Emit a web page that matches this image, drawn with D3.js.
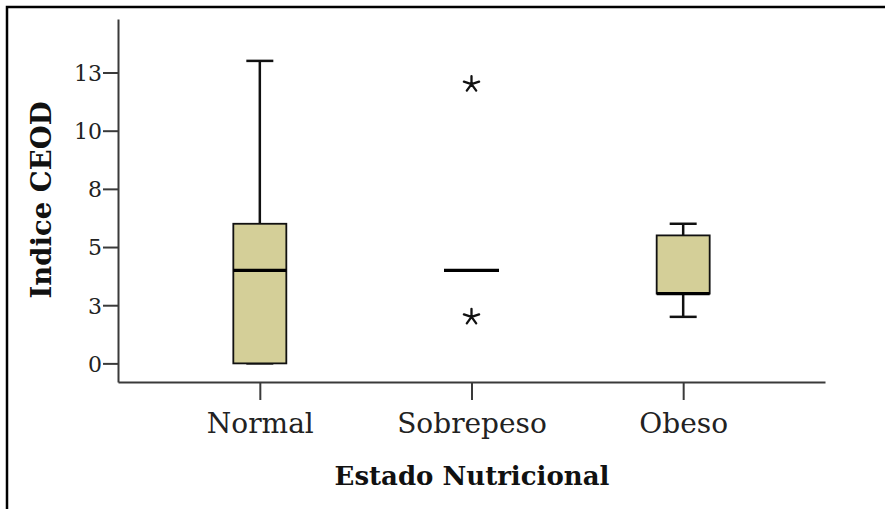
<!DOCTYPE html>
<html>
<head>
<meta charset="utf-8">
<script src="https://cdn.jsdelivr.net/npm/d3@7"></script>
<style>
  html, body { margin: 0; padding: 0; background: #fff; }
  svg { display: block; }
</style>
</head>
<body>
<svg id="chart" width="885" height="509"></svg>
<script>
// Box plot summary of Indice CEOD by nutritional status
const categories   = ["Normal", "Sobrepeso", "Obeso"];
const whiskerLow   = [0, 4, 2];
const q1           = [0, 4, 3];
const median       = [4, 4, 3];
const q3           = [6, 4, 5.5];
const whiskerHigh  = [13, 4, 6];
const extremes     = [[], [12, 2], []];
const tickValues   = [0, 2.5, 5, 7.5, 10, 12.5];
const tickLabels   = ["0", "3", "5", "8", "10", "13"];

const svg = d3.select("#chart");
const serif = "'DejaVu Serif', serif";
const ink = "#111";
const axisInk = "#3a3a3a";

// outer frame (left and top edges visible)
svg.append("path")
  .attr("d", "M7,509 L7,7 L885,7")
  .attr("fill", "none")
  .attr("stroke", "#000")
  .attr("stroke-width", 2.5);

const y = d3.scaleLinear().domain([-0.8, 14.8]).range([382, 19]);
const x = d3.scalePoint().domain(categories).range([118, 825]).padding(0.67);

// y axis
const yAxis = svg.append("g")
  .attr("transform", "translate(118,0)")
  .call(d3.axisLeft(y).tickValues(tickValues)
    .tickFormat((d, i) => tickLabels[i]).tickSize(15).tickSizeOuter(0).tickPadding(1));
yAxis.select(".domain").attr("stroke", axisInk).attr("stroke-width", 2);
yAxis.selectAll(".tick line").attr("stroke", axisInk).attr("stroke-width", 2);
yAxis.selectAll(".tick text")
  .attr("font-family", serif).attr("font-size", 22).attr("fill", "#222")
  .attr("dy", "0.36em");

// x axis
const xAxis = svg.append("g")
  .attr("transform", "translate(0,382)")
  .call(d3.axisBottom(x).tickSize(18).tickSizeOuter(0));
xAxis.select(".domain").attr("stroke", axisInk).attr("stroke-width", 2);
xAxis.selectAll(".tick line").attr("stroke", axisInk).attr("stroke-width", 2);
xAxis.selectAll(".tick text")
  .attr("font-family", serif).attr("font-size", 28).attr("fill", "#222")
  .attr("y", 51).attr("dy", 0);

// axis titles
svg.append("text")
  .attr("transform", "translate(51,200) rotate(-90)")
  .attr("text-anchor", "middle")
  .attr("font-family", serif).attr("font-weight", "bold").attr("font-size", 27.5)
  .attr("fill", "#111")
  .text("Indice CEOD");

svg.append("text")
  .attr("x", 472).attr("y", 485)
  .attr("text-anchor", "middle")
  .attr("font-family", serif).attr("font-weight", "bold").attr("font-size", 26)
  .attr("fill", "#111")
  .text("Estado Nutricional");

// boxes
const boxW = 53, capW = 27;
const rows = categories.map((c, i) => ({
  c, lo: whiskerLow[i], q1: q1[i], med: median[i], q3: q3[i], hi: whiskerHigh[i], ext: extremes[i]
}));

const g = svg.append("g");
rows.forEach(r => {
  const cx = x(r.c);
  const hasBox = r.q3 > r.q1;
  if (hasBox) {
    // whiskers
    g.append("line").attr("x1", cx).attr("x2", cx)
      .attr("y1", y(r.q3)).attr("y2", y(r.hi))
      .attr("stroke", ink).attr("stroke-width", 2.5);
    g.append("line").attr("x1", cx).attr("x2", cx)
      .attr("y1", y(r.q1)).attr("y2", y(r.lo))
      .attr("stroke", ink).attr("stroke-width", 2.5);
    [r.lo, r.hi].forEach(v => {
      g.append("line").attr("x1", cx - capW / 2).attr("x2", cx + capW / 2)
        .attr("y1", y(v)).attr("y2", y(v))
        .attr("stroke", ink).attr("stroke-width", 2.5);
    });
    g.append("rect")
      .attr("x", cx - boxW / 2).attr("width", boxW)
      .attr("y", y(r.q3)).attr("height", y(r.q1) - y(r.q3))
      .attr("fill", "#d4cf98")
      .attr("stroke", ink).attr("stroke-width", 1.8);
  }
  // median
  const mw = hasBox ? boxW : 55;
  g.append("line").attr("x1", cx - mw / 2).attr("x2", cx + mw / 2)
    .attr("y1", y(r.med)).attr("y2", y(r.med))
    .attr("stroke", "#000").attr("stroke-width", 3.2);
  // extreme values as asterisks
  r.ext.forEach(v => {
    const arms = d3.range(5).map(k => {
      const a = -Math.PI / 2 + k * 2 * Math.PI / 5;
      return `M${cx},${y(v)}L${cx + 8 * Math.cos(a)},${y(v) + 8 * Math.sin(a)}`;
    }).join("");
    g.append("path").attr("d", arms)
      .attr("stroke", "#111").attr("stroke-width", 2.3).attr("fill", "none")
      .attr("stroke-linecap", "round");
  });
});
</script>
</body>
</html>
